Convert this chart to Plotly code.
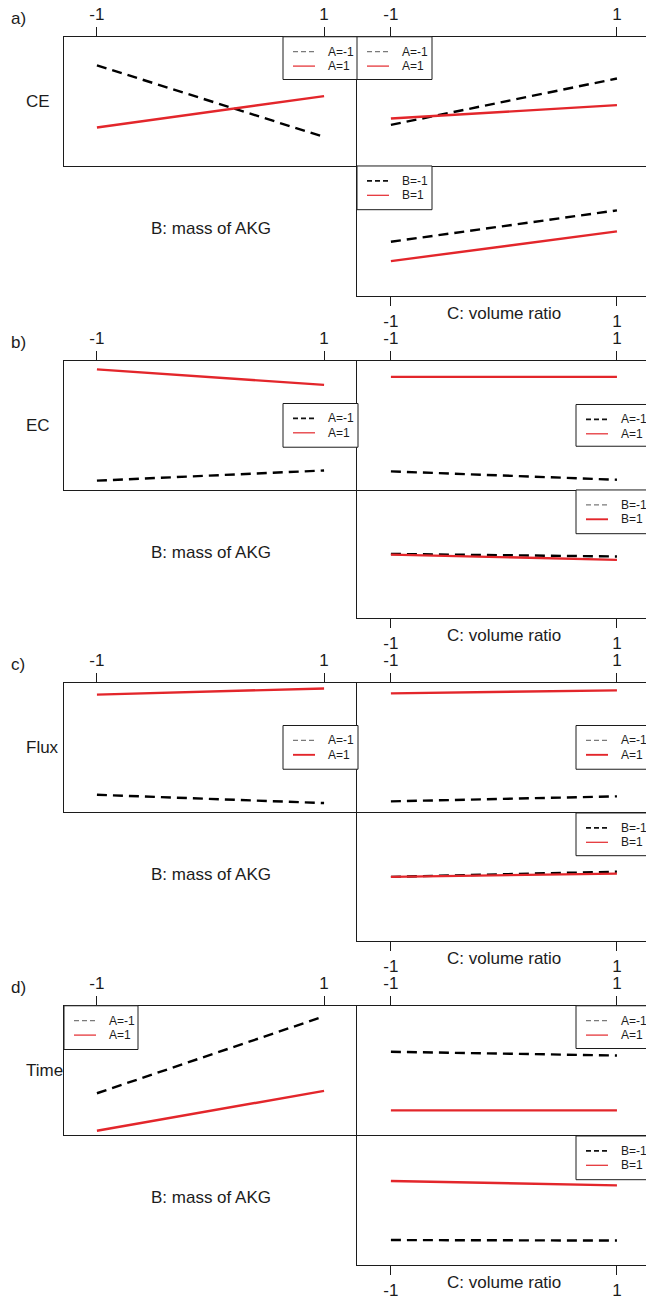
import plotly.graph_objects as go

W, H = 646, 1300

# ---------------- data ----------------
levels = [-1, 1]
tick_text = ["-1", "1"]
panel_tags = ["a)", "b)", "c)", "d)"]
responses = ["CE", "EC", "Flux", "Time"]
b_title = "B: mass of AKG"
c_title = "C: volume ratio"
a_labels = ["A=-1", "A=1"]
b_labels = ["B=-1", "B=1"]

# relative response (% of each plot's height)
# AB interaction: x = B, series A=-1 / A=1
ab_a_neg = [[77.9, 22.5], [7.2, 15.1], [13.3, 6.9], [32.3, 91.8]]
ab_a_pos = [[29.8, 54.1], [93.3, 81.3], [90.8, 95.6], [3.3, 34.1]]
# AC interaction: x = C, series A=-1 / A=1
ac_a_neg = [[31.8, 67.7], [14.4, 7.9], [8.2, 12.1], [64.4, 61.5]]
ac_a_pos = [[36.7, 47.1], [87.5, 87.5], [91.8, 94.1], [19.0, 19.0]]
# BC interaction: x = C, series B=-1 / B=1
bc_b_neg = [[41.8, 65.9], [50.1, 48.1], [49.8, 53.8], [19.3, 18.9]]
bc_b_pos = [[26.9, 49.8], [49.6, 45.5], [49.8, 52.3], [64.7, 61.3]]

# ---------------- style / geometry ----------------
FONT = "Liberation Sans, Arial, sans-serif"
INK = "#1c1c1c"
RED = "#e3262b"
TXT = 17
tops = [37, 363, 687, 1012]
mids = [167, 493, 817, 1142]
bots = [298, 622, 947, 1273]
LX0, SPLIT = 64, 357
left_range = [-1.29, 1.29]
right_range = [-1.30, 1.257]

# legend boxes per panel (TL, TR, BR): x0, y0, x1, y1, dark-dash, bold-red
legend_boxes = [
    [(283, 37, 358, 80, False, False), (357, 37, 432, 80, False, False), (357, 167, 432, 211, True, False)],
    [(283, 406, 358, 450, True, False), (576, 407, 651, 449, True, False), (576, 493, 651, 537, False, True)],
    [(283, 730, 358, 774, False, True), (576, 730, 651, 774, False, True), (576, 818, 651, 861, True, False)],
    [(64, 1012, 138, 1056, False, False), (576, 1012, 651, 1055, False, False), (576, 1143, 651, 1187, True, False)],
]

fig = go.Figure()
layout = {}
shapes = []
annotations = []

def ax_name(k, letter):
    return letter if k == 1 else f"{letter}{k}"

k = 0
for p in range(4):
    T, M, B = tops[p], mids[p], bots[p]
    cells = [
        ("TL", (LX0, SPLIT), (T, M), left_range, "top", ab_a_neg[p], ab_a_pos[p], a_labels),
        ("TR", (SPLIT, W), (T, M), right_range, "top", ac_a_neg[p], ac_a_pos[p], a_labels),
        ("BR", (SPLIT, W), (M, B), right_range, "bottom", bc_b_neg[p], bc_b_pos[p], b_labels),
    ]
    for ci, (pos, (x0, x1), (y0, y1), xr, side, neg, posv, labs) in enumerate(cells):
        k += 1
        xa, ya = ax_name(k, "x"), ax_name(k, "y")
        fig.add_trace(go.Scatter(
            x=levels, y=neg, mode="lines", name=labs[0], xaxis=xa, yaxis=ya,
            line=dict(color="#000000", width=2.4, dash="10px,6px"), showlegend=False))
        fig.add_trace(go.Scatter(
            x=levels, y=posv, mode="lines", name=labs[1], xaxis=xa, yaxis=ya,
            line=dict(color=RED, width=2.4), showlegend=False))
        layout[f"xaxis{k}"] = dict(
            domain=[x0 / W, x1 / W], range=xr, anchor=ya, side=side,
            tickmode="array", tickvals=levels, ticktext=tick_text,
            ticks="outside", ticklen=9, tickwidth=1, tickcolor=INK,
            tickfont=dict(family=FONT, size=TXT, color=INK),
            showline=True, mirror=(pos != "BR"), linecolor=INK, linewidth=1,
            showgrid=False, zeroline=False, fixedrange=True)
        layout[f"yaxis{k}"] = dict(
            domain=[1 - y1 / H, 1 - y0 / H], range=[0, 100], anchor=xa,
            showticklabels=False, ticks="", showgrid=False, zeroline=False,
            showline=True, mirror=False, linecolor=INK, linewidth=1,
            fixedrange=True)

        # legend box for this cell
        lx0, ly0, lx1, ly1, dark, boldred = legend_boxes[p][ci]
        shapes.append(dict(type="rect", xref="paper", yref="paper",
                           x0=lx0 / W, x1=lx1 / W, y0=1 - ly1 / H, y1=1 - ly0 / H,
                           line=dict(color=INK, width=1), fillcolor="white", layer="above"))
        r1 = ly0 + 15
        r2 = r1 + 14.5
        for ri, (ry, lab) in enumerate([(r1, labs[0]), (r2, labs[1])]):
            if ri == 0:
                lc = "#111111" if dark else "#7a7a7a"
                lw = 1.7 if dark else 1.2
                ld = "5px,3px"
            else:
                lc = RED
                lw = 1.9 if boldred else 1.2
                ld = "solid"
            shapes.append(dict(type="line", xref="paper", yref="paper",
                               x0=(lx0 + 10) / W, x1=(lx0 + 32) / W,
                               y0=1 - ry / H, y1=1 - ry / H,
                               line=dict(color=lc, width=lw, dash=ld), layer="above"))
            annotations.append(dict(text=lab, xref="paper", yref="paper",
                                    x=(lx0 + 43) / W, y=1 - ry / H,
                                    xanchor="left", yanchor="middle", showarrow=False,
                                    font=dict(family=FONT, size=12, color=INK)))

    # panel texts
    annotations.append(dict(text=panel_tags[p], xref="paper", yref="paper",
                            x=9 / W, y=1 - (T - 18) / H, xanchor="left", yanchor="middle",
                            showarrow=False, font=dict(family=FONT, size=TXT, color=INK)))
    annotations.append(dict(text=responses[p], xref="paper", yref="paper",
                            x=24 / W, y=1 - (T + 65) / H, xanchor="left", yanchor="middle",
                            showarrow=False, font=dict(family=FONT, size=TXT, color=INK)))
    annotations.append(dict(text=b_title, xref="paper", yref="paper",
                            x=211 / W, y=1 - (M + 63) / H, xanchor="center", yanchor="middle",
                            showarrow=False, font=dict(family=FONT, size=TXT, color=INK)))
    annotations.append(dict(text=c_title, xref="paper", yref="paper",
                            x=504 / W, y=1 - (B + 17) / H, xanchor="center", yanchor="middle",
                            showarrow=False, font=dict(family=FONT, size=TXT, color=INK)))

fig.update_layout(
    width=W, height=H, margin=dict(l=0, r=0, t=0, b=0),
    paper_bgcolor="white", plot_bgcolor="white",
    showlegend=False, shapes=shapes, annotations=annotations,
    **layout)

fig.write_html("out.html")
